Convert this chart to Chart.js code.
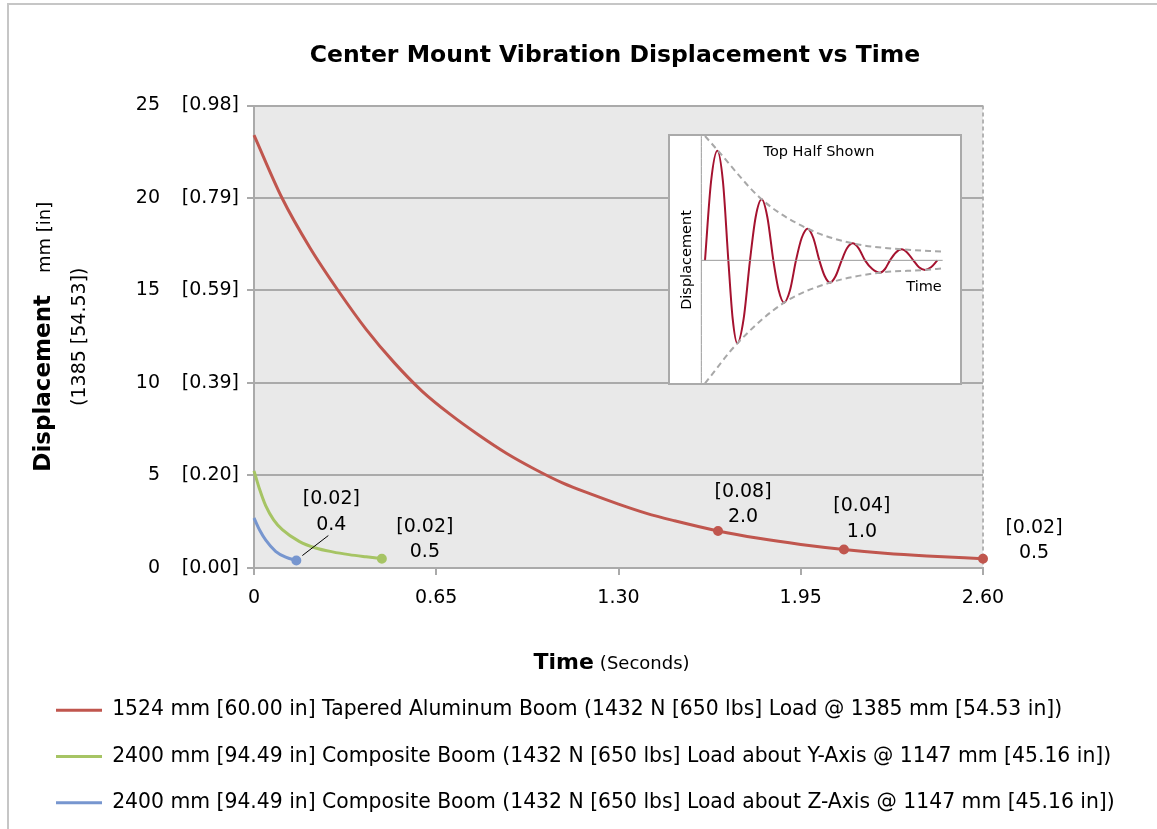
<!DOCTYPE html>
<html>
<head>
<meta charset="utf-8">
<title>Center Mount Vibration Displacement vs Time</title>
<script src="https://cdn.jsdelivr.net/npm/chart.js@4.4.1/dist/chart.umd.min.js"></script>
<style>
  html, body { margin: 0; padding: 0; background: #fff; }
  #wrap { position: relative; width: 1157px; height: 829px; overflow: hidden; }
  #frame { position: absolute; left: 7px; top: 3px; width: 1200px; height: 900px;
           border-left: 2px solid #c6c6c6; border-top: 2px solid #c6c6c6; }
  #main { position: absolute; left: 0; top: 0; }
  #insetBox { position: absolute; left: 668px; top: 134px; width: 290px; height: 247px;
              border: 2px solid #aaaaaa; background: #fff; }
  #inset { position: absolute; left: 0; top: 0; }
</style>
</head>
<body>
<div id="wrap">
  <div id="frame"></div>
  <canvas id="main" width="1157" height="829"></canvas>
  <div id="insetBox"><canvas id="inset" width="290" height="247"></canvas></div>
</div>
<script>
// ---- data ----
const chartTitle = 'Center Mount Vibration Displacement vs Time';
const seriesNames = [
  '1524 mm [60.00 in] Tapered Aluminum Boom (1432 N [650 lbs] Load @ 1385 mm [54.53 in])',
  '2400 mm [94.49 in] Composite Boom (1432 N [650 lbs] Load about Y-Axis @ 1147 mm [45.16 in])',
  '2400 mm [94.49 in] Composite Boom (1432 N [650 lbs] Load about Z-Axis @ 1147 mm [45.16 in])'
];

// time (s) and displacement (mm)
const tRed = [0, 0.1, 0.2, 0.3, 0.4, 0.5, 0.6, 0.7, 0.8, 0.9, 1.0, 1.1, 1.2, 1.3, 1.4, 1.5, 1.655, 1.8, 1.95, 2.104, 2.25, 2.4, 2.6];
const dRed = [23.4, 20.0, 17.3, 15.0, 12.9, 11.1, 9.55, 8.3, 7.2, 6.2, 5.35, 4.6, 4.0, 3.45, 2.95, 2.55, 2.0, 1.6, 1.27, 1.0, 0.8, 0.65, 0.5];
const tGreen = [0, 0.02, 0.042, 0.07, 0.101, 0.161, 0.22, 0.28, 0.339, 0.40, 0.456];
const dGreen = [5.25, 4.25, 3.35, 2.6, 2.07, 1.44, 1.08, 0.87, 0.72, 0.6, 0.5];
const tBlue = [0, 0.02, 0.042, 0.077, 0.113, 0.151];
const dBlue = [2.7, 2.05, 1.5, 0.9, 0.58, 0.4];

// which points carry a marker + label
const redMarks = [16, 19, 22];
const greenMarks = [10];
const blueMarks = [5];

const xTicks = [0, 0.65, 1.30, 1.95, 2.60];
const xTickLabels = ['0', '0.65', '1.30', '1.95', '2.60'];
const yTicks = [0, 5, 10, 15, 20, 25];
const yTickMm = ['0', '5', '10', '15', '20', '25'];
const yTickIn = ['[0.00]', '[0.20]', '[0.39]', '[0.59]', '[0.79]', '[0.98]'];

// inset sketch (its own unitless coordinates)
const waveX = [135, 153, 172, 189, 205, 218, 232, 251, 270, 287, 305, 322, 340, 356, 372, 390, 408, 425, 443, 460, 478,
               494, 510, 527, 545, 561, 578, 596, 615, 637, 660, 675, 690, 707, 725, 742, 760, 777, 795, 813, 832];
const waveY = [0, 235, 329, 235, 0, -175, -249, -175, 0, 130, 183, 130, 0, -90, -127, -90, 0, 67, 95, 67, 0,
               -47, -67, -47, 0, 36, 51, 36, 0, -26, -37, -26, 0, 23, 33, 23, 0, -21, -29, -21, 0];
const upperX = [135, 172, 305, 443, 578, 725, 848];
const upperY = [373, 331, 183, 95, 51, 33, 26];
const lowerX = [135, 232, 372, 510, 660, 795, 848];
const lowerY = [-369, -249, -127, -67, -37, -29, -24];
const insetAxisX = [124, 848];
const insetAxisY = [0, 0];
const insetVertX = [124, 124];
const insetVertY = [373, -368];

// ---- helpers ----
function pts(xs, ys) {
  return xs.map((x, i) => ({ x: x, y: ys[i] }));
}
function radii(xs, marks, r) {
  return xs.map((_, i) => marks.includes(i) ? r : 0);
}

const FONT = 'DejaVu Sans';
Chart.defaults.font.family = FONT;
Chart.defaults.color = '#000';

const RED = '#c0564e';
const GREEN = '#a6c464';
const BLUE = '#7796cf';
const GRID = '#aaaaaa';

// label positions next to marked points (offset of first line centre)
const pointNotes = [
  { ds: 0, i: 16, dx: 25, dy: -39 },
  { ds: 0, i: 19, dx: 18, dy: -43 },
  { ds: 0, i: 22, dx: 51, dy: -31 },
  { ds: 1, i: 10, dx: 43, dy: -32 },
  { ds: 2, i: 5, dx: 35, dy: -61, leader: [6, -5, 32, -25] }
];

const plotBackground = {
  id: 'plotBackground',
  beforeDraw(chart) {
    const a = chart.chartArea;
    const ctx = chart.ctx;
    ctx.save();
    ctx.fillStyle = '#e9e9e9';
    ctx.fillRect(a.left, a.top, a.right - a.left, a.bottom - a.top);
    ctx.restore();
  }
};

const pointLabels = {
  id: 'pointLabels',
  afterDatasetsDraw(chart) {
    const ctx = chart.ctx;
    ctx.save();
    ctx.font = '19px ' + FONT;
    ctx.fillStyle = '#000';
    ctx.textAlign = 'center';
    ctx.textBaseline = 'middle';
    pointNotes.forEach(n => {
      const el = chart.getDatasetMeta(n.ds).data[n.i];
      const v = chart.data.datasets[n.ds].data[n.i].y;
      ctx.fillText('[' + (v / 25.4).toFixed(2) + ']', el.x + n.dx, el.y + n.dy);
      ctx.fillText(v.toFixed(1), el.x + n.dx, el.y + n.dy + 25.5);
      if (n.leader) {
        ctx.strokeStyle = '#000';
        ctx.lineWidth = 1;
        ctx.beginPath();
        ctx.moveTo(el.x + n.leader[0], el.y + n.leader[1]);
        ctx.lineTo(el.x + n.leader[2], el.y + n.leader[3]);
        ctx.stroke();
      }
    });
    ctx.restore();
  }
};

// chart title and the two axis titles (mixed bold / regular text)
const titles = {
  id: 'titles',
  afterDraw(chart) {
    const ctx = chart.ctx;
    const a = chart.chartArea;
    ctx.save();
    ctx.fillStyle = '#000';
    ctx.textBaseline = 'alphabetic';

    ctx.textAlign = 'center';
    ctx.font = 'bold 23.5px ' + FONT;
    ctx.fillText(chartTitle, 615, 61.5);

    // x title: bold "Time" + normal "(Seconds)"
    ctx.font = 'bold 22px ' + FONT;
    const w1 = ctx.measureText('Time').width;
    ctx.font = '18px ' + FONT;
    const w2 = ctx.measureText('(Seconds)').width;
    const gap = 6;
    const x = (a.left + a.right) / 2 - 7 - (w1 + gap + w2) / 2;
    ctx.textAlign = 'left';
    ctx.font = 'bold 22px ' + FONT;
    ctx.fillText('Time', x, 669);
    ctx.font = '18px ' + FONT;
    ctx.fillText('(Seconds)', x + w1 + gap, 669);

    // y title, rotated
    const cy = (a.top + a.bottom) / 2;
    ctx.font = 'bold 23px ' + FONT;
    const b1 = ctx.measureText('Displacement').width;
    ctx.font = '18px ' + FONT;
    const b2 = ctx.measureText('mm [in]').width;
    const g2 = 22;
    ctx.save();
    ctx.translate(50, cy);
    ctx.rotate(-Math.PI / 2);
    const rx = -(b1 + g2 + b2) / 2;
    ctx.font = 'bold 23px ' + FONT;
    ctx.fillText('Displacement', rx, 0);
    ctx.font = '18px ' + FONT;
    ctx.fillText('mm [in]', rx + b1 + g2, 0);
    ctx.restore();

    ctx.save();
    ctx.translate(85, cy);
    ctx.rotate(-Math.PI / 2);
    ctx.textAlign = 'center';
    ctx.font = '19px ' + FONT;
    ctx.fillText('(1385 [54.53])', 0, 0);
    ctx.restore();

    ctx.restore();
  }
};

function lineSet(label, xs, ys, color, marks) {
  return {
    label: label,
    data: pts(xs, ys),
    borderColor: color,
    backgroundColor: color,
    pointBackgroundColor: color,
    pointBorderColor: color,
    borderWidth: 3,
    pointBorderWidth: 3,
    pointRadius: radii(xs, marks, 3.5),
    cubicInterpolationMode: 'monotone',
    clip: false
  };
}

new Chart(document.getElementById('main'), {
  type: 'line',
  data: {
    datasets: [
      lineSet(seriesNames[0], tRed, dRed, RED, redMarks),
      lineSet(seriesNames[1], tGreen, dGreen, GREEN, greenMarks),
      lineSet(seriesNames[2], tBlue, dBlue, BLUE, blueMarks)
    ]
  },
  options: {
    responsive: false,
    animation: false,
    events: [],
    layout: { padding: { left: 30, right: 10, top: 105.5, bottom: 6 } },
    scales: {
      x: {
        type: 'linear',
        min: 0,
        max: 2.6,
        afterBuildTicks: s => { s.ticks = xTicks.map(v => ({ value: v })); },
        afterFit: s => { s.height = 106; },
        ticks: {
          autoSkip: false,
          maxRotation: 0,
          padding: 12,
          font: { size: 19 },
          color: '#000',
          callback: (v, i) => xTickLabels[i]
        },
        grid: {
          color: ctx => (ctx.tick && ctx.tick.value === 2.6) ? '#b4b4b4' : 'rgba(0,0,0,0)',
          lineWidth: 2,
          tickColor: GRID,
          tickWidth: 2,
          tickLength: 7,
          tickBorderDash: []
        },
        border: { color: GRID, width: 2, dash: [4, 3] }
      },
      y: {
        type: 'linear',
        position: 'left',
        weight: 0,
        min: 0,
        max: 25,
        afterBuildTicks: s => { s.ticks = yTicks.map(v => ({ value: v })); },
        afterFit: s => { s.width = 84; },
        ticks: {
          padding: 8,
          font: { size: 19 },
          color: '#000',
          callback: v => yTickIn[yTicks.indexOf(v)]
        },
        grid: { color: GRID, lineWidth: 2, tickColor: GRID, tickLength: 7 },
        border: { color: GRID, width: 2 }
      },
      y2: {
        type: 'linear',
        position: 'left',
        weight: 1,
        min: 0,
        max: 25,
        afterBuildTicks: s => { s.ticks = yTicks.map(v => ({ value: v })); },
        afterFit: s => { s.width = 140; },
        ticks: {
          padding: 10,
          font: { size: 19 },
          color: '#000',
          callback: v => yTickMm[yTicks.indexOf(v)]
        },
        grid: { display: false, drawTicks: false },
        border: { display: false }
      },
      // empty right-hand axis, only keeps room for the end label
      yRight: {
        type: 'linear',
        position: 'right',
        min: 0,
        max: 1,
        afterFit: s => { s.width = 164; },
        ticks: { display: false },
        grid: { display: false, drawTicks: false },
        border: { display: false }
      }
    },
    plugins: {
      title: { display: false },
      legend: {
        position: 'bottom',
        align: 'start',
        labels: {
          usePointStyle: true,
          pointStyle: 'line',
          pointStyleWidth: 46,
          padding: 26,
          color: '#000',
          font: { size: 20.35 }
        }
      },
      tooltip: { enabled: false }
    }
  },
  plugins: [plotBackground, pointLabels, titles]
});

// ---- inset: decaying vibration sketch ----
const insetText = {
  id: 'insetText',
  afterDraw(chart) {
    const ctx = chart.ctx;
    ctx.save();
    ctx.fillStyle = '#000';
    ctx.textAlign = 'center';
    ctx.textBaseline = 'middle';
    ctx.font = '14.5px ' + FONT;
    ctx.fillText('Top Half Shown', 149, 16);
    ctx.fillText('Time', 254, 151);
    ctx.translate(17, 124);
    ctx.rotate(-Math.PI / 2);
    ctx.fillText('Displacement', 0, 0);
    ctx.restore();
  }
};

function insetLine(xs, ys, color, width, dash) {
  return {
    data: pts(xs, ys),
    borderColor: color,
    borderWidth: width,
    borderDash: dash,
    pointRadius: 0,
    cubicInterpolationMode: 'monotone',
    clip: false
  };
}

new Chart(document.getElementById('inset'), {
  type: 'line',
  data: {
    datasets: [
      insetLine(insetAxisX, insetAxisY, '#9a9a9a', 1, []),
      insetLine(insetVertX, insetVertY, '#9a9a9a', 1, []),
      insetLine(upperX, upperY, '#a8a8a8', 2, [6, 4]),
      insetLine(lowerX, lowerY, '#a8a8a8', 2, [6, 4]),
      insetLine(waveX, waveY, '#a5122f', 2, [])
    ]
  },
  options: {
    responsive: false,
    animation: false,
    events: [],
    layout: { padding: 0 },
    scales: {
      x: { type: 'linear', min: 30, max: 900, display: false },
      y: { type: 'linear', min: -368, max: 373, display: false }
    },
    plugins: { legend: { display: false }, title: { display: false }, tooltip: { enabled: false } }
  },
  plugins: [insetText]
});
</script>
</body>
</html>
